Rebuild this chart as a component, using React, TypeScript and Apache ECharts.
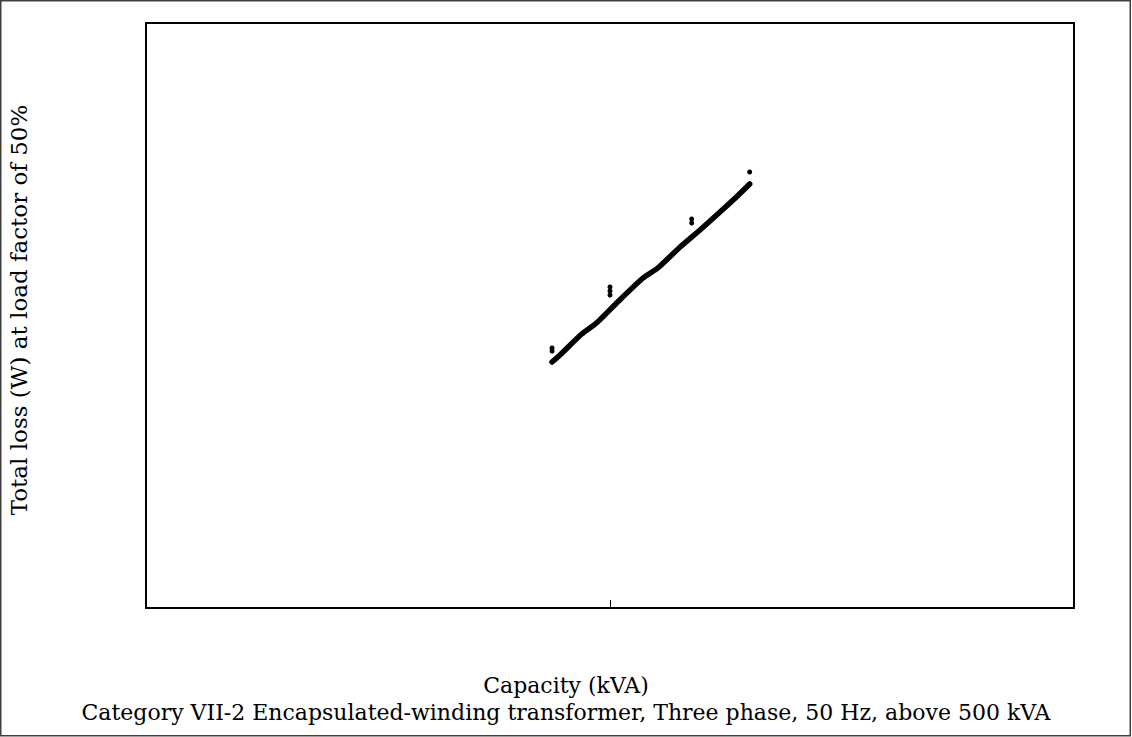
import React, { useEffect, useRef } from "react";
import * as echarts from "echarts";

// Capacity (kVA) and total loss (W) along the main curve
const capacityKVA = [750, 780, 869, 935, 1040, 1178, 1268, 1416, 1563, 1726, 1875, 2000];
const totalLossW = [12615, 12974, 14051, 14615, 15708, 16923, 17436, 18513, 19385, 20308, 21092, 21744];

// Individual outlying points
const outlierKVA = [750, 750, 1000, 1000, 1000, 1500, 1500, 2000];
const outlierLossW = [13333, 13179, 16462, 16256, 16051, 19949, 19744, 22359];

const xTitle = "Capacity (kVA)";
const yTitle = "Total loss (W) at load factor of 50%";
const caption =
  "Category VII-2 Encapsulated-winding transformer, Three phase, 50 Hz, above 500 kVA";

const FONT = "'DejaVu Serif', 'Liberation Serif', serif";

export default function App() {
  const ref = useRef<HTMLDivElement>(null);
  useEffect(() => {
    if (!ref.current) return;
    const chart = echarts.init(ref.current, null, { renderer: "svg" });
    chart.setOption({
      animation: false,
      backgroundColor: "#ffffff",
      grid: {
        left: 146,
        top: 23,
        width: 928,
        height: 585,
        show: true,
        borderColor: "#000",
        borderWidth: 2,
        backgroundColor: "transparent",
      },
      xAxis: {
        type: "log",
        logBase: 10,
        min: 100,
        max: 10000,
        axisLine: { show: true, lineStyle: { color: "#000", width: 2 } },
        axisTick: { show: true, inside: true, length: 8, lineStyle: { color: "#000", width: 1 } },
        axisLabel: { show: false },
        splitLine: { show: false },
        minorTick: { show: false },
      },
      yAxis: {
        type: "value",
        min: 0,
        max: 30000,
        axisLine: { show: true, lineStyle: { color: "#000", width: 2 } },
        axisTick: { show: false },
        axisLabel: { show: false },
        splitLine: { show: false },
      },
      series: [
        {
          type: "line",
          data: capacityKVA.map((c, i) => [c, totalLossW[i]]),
          showSymbol: false,
          symbol: "none",
          smooth: 0.2,
          lineStyle: { color: "#000", width: 5.5, cap: "round", join: "round" },
        },
        {
          type: "scatter",
          data: outlierKVA.map((c, i) => [c, outlierLossW[i]]),
          symbolSize: 5,
          itemStyle: { color: "#000", opacity: 1 },
        },
      ],
      graphic: [
        {
          type: "rect",
          shape: { x: 0.75, y: 0.75, width: 1129.5, height: 735 },
          style: { fill: "none", stroke: "#404040", lineWidth: 1.5 },
          silent: true,
        },
        {
          type: "text",
          x: 566,
          y: 685,
          style: {
            text: xTitle,
            font: `22px ${FONT}`,
            fill: "#000",
            align: "center",
            verticalAlign: "middle",
          },
        },
        {
          type: "text",
          x: 566,
          y: 712,
          style: {
            text: caption,
            font: `22px ${FONT}`,
            fill: "#000",
            align: "center",
            verticalAlign: "middle",
          },
        },
        {
          type: "text",
          x: 19,
          y: 310,
          rotation: Math.PI / 2,
          style: {
            text: yTitle,
            font: `23px ${FONT}`,
            fill: "#000",
            align: "center",
            verticalAlign: "middle",
          },
        },
      ],
    });
    return () => chart.dispose();
  }, []);
  return (
    <div
      ref={ref}
      style={{ position: "fixed", left: 0, top: 0, width: 1132, height: 737, background: "#fff" }}
    />
  );
}
